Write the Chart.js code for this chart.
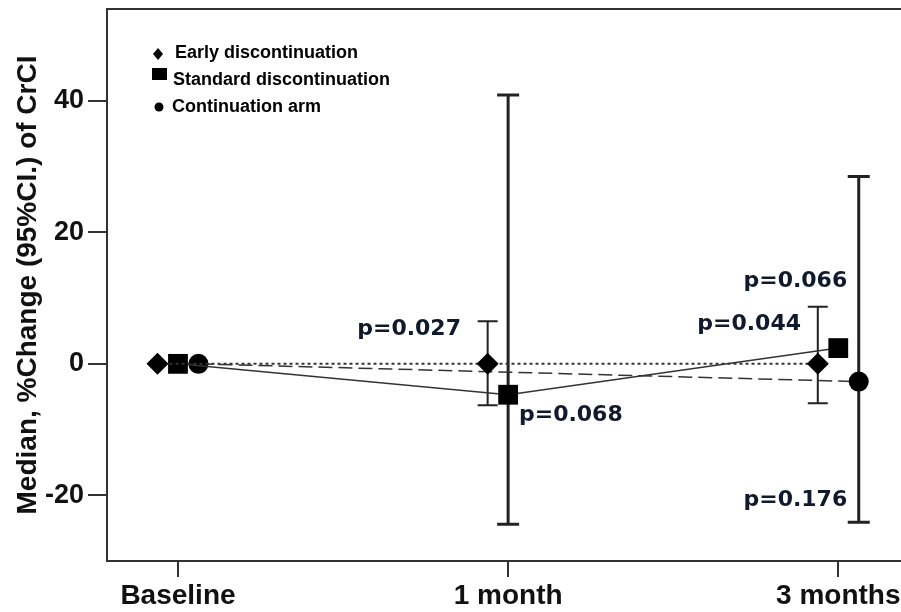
<!DOCTYPE html>
<html>
<head>
<meta charset="utf-8">
<script src="https://cdn.jsdelivr.net/npm/chart.js@4.4.0/dist/chart.umd.min.js"></script>
<style>
html, body { margin: 0; padding: 0; background: #fff; }
#wrap { width: 901px; height: 612px; position: relative; }
</style>
</head>
<body>
<div id="wrap"><canvas id="myChart"></canvas></div>
<script>
// data
var categories = ["Baseline", "1 month", "3 months"];
var seriesNames = ["Early discontinuation", "Standard discontinuation", "Continuation arm"];

var earlyMedian = [0, 0, 0];
var earlyLow    = [null, -6.3, -6.0];
var earlyHigh   = [null, 6.5, 8.7];

var standardMedian = [0, -4.7, 2.4];
var standardLow    = [null, -24.4, null];
var standardHigh   = [null, 40.9, null];

var contMedian = [0, null, -2.7];
var contLow    = [null, null, -24.1];
var contHigh   = [null, null, 28.5];

var yTicks = [-20, 0, 20, 40];
var pLabels = ["p=0.027", "p=0.068", "p=0.044", "p=0.066", "p=0.176"];
// where each p label sits, in axis units (x = category index, y = value)
var pAt = [[0.70, 5.3], [1.19, -7.8], [1.73, 6.0], [1.87, 12.5], [1.87, -20.8]];

var INK = "#333";

var styles = [
    {off: -0.062, point: "rectRot", r: 11, dash: [3, 3], lw: 2, barW: 2, cap: 20},
    {off: 0,      point: "rect",    r: 14, dash: [],     lw: 1.5, barW: 3, cap: 22},
    {off: 0.062,  point: "circle",  r: 10, dash: [14, 6], lw: 1.5, barW: 3, cap: 22}
];
var medians = [earlyMedian, standardMedian, contMedian];
var lows = [earlyLow, standardLow, contLow];
var highs = [earlyHigh, standardHigh, contHigh];

function toPoints(vals, off) {
    var out = [];
    for (var i = 0; i < vals.length; i++) {
        if (vals[i] !== null) out.push({x: i + off, y: vals[i]});
    }
    return out;
}

var datasets = medians.map(function (m, s) {
    var st = styles[s];
    return {
        label: seriesNames[s],
        data: toPoints(m, st.off),
        borderColor: INK,
        borderWidth: st.lw,
        borderDash: st.dash,
        pointStyle: st.point,
        pointRadius: st.r,
        pointHoverRadius: st.r,
        pointBackgroundColor: "#000",
        pointBorderColor: "#000",
        pointBorderWidth: 0,
        fill: false,
        tension: 0
    };
});

var errorBars = {
    id: "errorBars",
    beforeDatasetsDraw: function (chart) {
        var ctx = chart.ctx, xs = chart.scales.x, ys = chart.scales.y;
        ctx.save();
        ctx.strokeStyle = "#222";
        for (var s = 0; s < medians.length; s++) {
            var st = styles[s];
            for (var i = 0; i < categories.length; i++) {
                if (lows[s][i] === null) continue;
                var px = xs.getPixelForValue(i + st.off);
                var y1 = ys.getPixelForValue(lows[s][i]);
                var y2 = ys.getPixelForValue(highs[s][i]);
                ctx.lineWidth = st.barW;
                ctx.beginPath();
                ctx.moveTo(px, y1); ctx.lineTo(px, y2);
                ctx.moveTo(px - st.cap / 2, y1); ctx.lineTo(px + st.cap / 2, y1);
                ctx.moveTo(px - st.cap / 2, y2); ctx.lineTo(px + st.cap / 2, y2);
                ctx.stroke();
            }
        }
        ctx.restore();
    }
};

var extras = {
    id: "extras",
    afterDraw: function (chart) {
        var ctx = chart.ctx, a = chart.chartArea, xs = chart.scales.x, ys = chart.scales.y;
        ctx.save();
        // top frame line
        ctx.strokeStyle = INK;
        ctx.lineWidth = 2;
        ctx.beginPath();
        ctx.moveTo(a.left, a.top); ctx.lineTo(a.right, a.top);
        ctx.stroke();

        // p values
        ctx.fillStyle = "#111a2c";
        ctx.font = "bold 22px 'DejaVu Sans'";
        ctx.textAlign = "center";
        ctx.textBaseline = "middle";
        for (var k = 0; k < pLabels.length; k++) {
            ctx.fillText(pLabels[k], xs.getPixelForValue(pAt[k][0]), ys.getPixelForValue(pAt[k][1]));
        }

        // legend box
        ctx.fillStyle = "#000";
        ctx.textAlign = "left";
        ctx.font = "bold 18px 'Liberation Sans'";
        var lx = a.left + 51;
        ctx.beginPath();
        ctx.moveTo(lx, 48); ctx.lineTo(lx + 5, 54); ctx.lineTo(lx, 60); ctx.lineTo(lx - 5, 54);
        ctx.closePath(); ctx.fill();
        ctx.fillText(seriesNames[0], lx + 17, 53);
        ctx.fillRect(lx - 6, 68, 15, 12);
        ctx.fillText(seriesNames[1], lx + 15, 80);
        ctx.beginPath();
        ctx.arc(lx + 1, 107, 4.5, 0, Math.PI * 2);
        ctx.fill();
        ctx.fillText(seriesNames[2], lx + 14, 107);
        ctx.restore();
    }
};

var ctx1 = document.getElementById("myChart").getContext("2d");
var myChart = new Chart(ctx1, {
    type: "line",
    data: {datasets: datasets},
    options: {
        responsive: true,
        maintainAspectRatio: false,
        animation: false,
        layout: {autoPadding: false, padding: {top: 9, right: 0, left: 0, bottom: 0}},
        plugins: {legend: {display: false}, tooltip: {enabled: false}},
        scales: {
            x: {
                type: "linear",
                min: -0.215,
                max: 2.19,
                afterBuildTicks: function (s) {
                    s.ticks = categories.map(function (c, i) { return {value: i}; });
                },
                afterFit: function (s) { s.height = 51; s.paddingLeft = 0; s.paddingRight = 0; },
                grid: {drawOnChartArea: false, tickLength: 16, color: INK, lineWidth: 2},
                border: {color: INK, width: 2},
                ticks: {
                    autoSkip: false, maxRotation: 0, padding: 2, color: "#111",
                    font: {family: "Liberation Sans", size: 28, weight: "bold"},
                    callback: function (v) { return categories[v]; }
                }
            },
            y: {
                min: -30,
                max: 54,
                afterBuildTicks: function (s) {
                    s.ticks = yTicks.map(function (v) { return {value: v}; });
                },
                afterFit: function (s) { s.width = 107; s.paddingTop = 0; s.paddingBottom = 0; },
                grid: {drawOnChartArea: false, tickLength: 19, color: INK, lineWidth: 2},
                border: {color: INK, width: 2},
                ticks: {
                    padding: 4, color: "#111",
                    font: {family: "Liberation Sans", size: 27, weight: "bold"}
                },
                title: {
                    display: true,
                    text: "Median, %Change (95%CI.) of CrCI",
                    color: "#111",
                    padding: {top: 11, bottom: 0},
                    font: {family: "Liberation Sans", size: 28, weight: "bold"}
                }
            }
        }
    },
    plugins: [errorBars, extras]
});
</script>
</body>
</html>
